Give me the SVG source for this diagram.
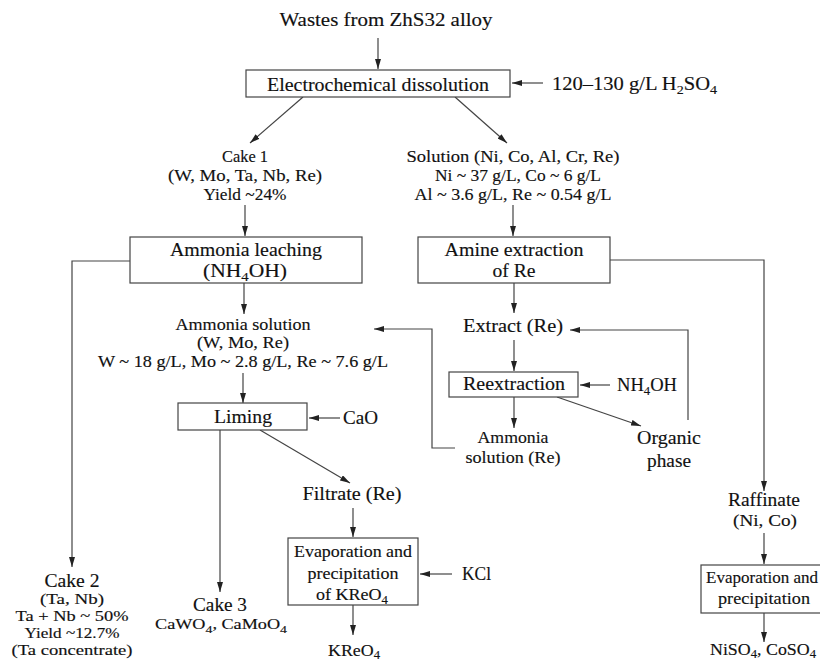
<svg xmlns="http://www.w3.org/2000/svg" width="820" height="662" viewBox="0 0 820 662">
<style>
text{font-family:"Liberation Serif","Times New Roman",serif;fill:#111;text-anchor:middle;stroke:#111;stroke-width:0.15}
.b{font-size:19px}
.s{font-size:17px}
.t{font-size:14.5px}
.l{text-anchor:start}
rect{fill:#fff;stroke:#444;stroke-width:1.2}
.c path,.c line{fill:none;stroke:#444;stroke-width:1.2}
</style>
<defs>
<marker id="a" viewBox="0 0 10 6" refX="10" refY="3" markerWidth="10" markerHeight="6" markerUnits="userSpaceOnUse" orient="auto"><path d="M0,0 L10,3 L0,6 z" fill="#222"/></marker>
</defs>
<rect x="0" y="0" width="820" height="662" style="stroke:none"/>
<g class="c" marker-end="url(#a)">
<line x1="378" y1="38" x2="378" y2="69"/>
<line x1="543" y1="83" x2="512" y2="83"/>
<line x1="303" y1="97" x2="250" y2="143"/>
<line x1="455" y1="97" x2="507" y2="143"/>
<line x1="245" y1="205" x2="245" y2="236"/>
<line x1="513" y1="205" x2="513" y2="236"/>
<path d="M130,261 H72 V567"/>
<line x1="244" y1="283" x2="244" y2="314"/>
<line x1="243" y1="373" x2="243" y2="403"/>
<line x1="340" y1="418" x2="309" y2="418"/>
<path d="M455,448 H432 V329 H374"/>
<line x1="514" y1="283" x2="514" y2="313"/>
<path d="M688,420 V330 H570"/>
<line x1="514" y1="340" x2="514" y2="371"/>
<line x1="610" y1="385" x2="580" y2="385"/>
<line x1="514" y1="397" x2="514" y2="428"/>
<line x1="557" y1="397" x2="641" y2="426"/>
<path d="M610,260 H764 V491"/>
<line x1="764" y1="533" x2="764" y2="564"/>
<line x1="764" y1="613" x2="764" y2="642"/>
<line x1="220" y1="430" x2="220" y2="592"/>
<line x1="260" y1="430" x2="350" y2="483"/>
<line x1="353" y1="508" x2="353" y2="537"/>
<line x1="452" y1="574" x2="420" y2="574"/>
<line x1="353" y1="605" x2="353" y2="635"/>
</g>
<g id="wastes"><text class="b" x="386" y="26" textLength="213" lengthAdjust="spacingAndGlyphs">Wastes from ZhS32 alloy</text></g>
<g id="electro"><rect x="246" y="70" width="264" height="27"/><text class="b" x="378" y="91" textLength="222" lengthAdjust="spacingAndGlyphs">Electrochemical dissolution</text></g>
<g id="h2so4"><text class="b l" x="552" y="90" textLength="165" lengthAdjust="spacingAndGlyphs">120–130 g/L H<tspan dy="4" font-size="13">2</tspan><tspan dy="-4">SO</tspan><tspan dy="4" font-size="13">4</tspan></text></g>
<g id="cake1"><text class="s" x="245" y="162" textLength="46" lengthAdjust="spacingAndGlyphs">Cake 1</text><text class="s" x="245" y="181" textLength="154" lengthAdjust="spacingAndGlyphs">(W, Mo, Ta, Nb, Re)</text><text class="s" x="245" y="200" textLength="83" lengthAdjust="spacingAndGlyphs">Yield ~24%</text></g>
<g id="solution"><text class="s" x="513" y="162" textLength="213" lengthAdjust="spacingAndGlyphs">Solution (Ni, Co, Al, Cr, Re)</text><text class="s" x="518" y="181" textLength="166" lengthAdjust="spacingAndGlyphs">Ni ~ 37 g/L, Co ~ 6 g/L</text><text class="s" x="513" y="200" textLength="197" lengthAdjust="spacingAndGlyphs">Al ~ 3.6 g/L, Re ~ 0.54 g/L</text></g>
<g id="leach"><rect x="130" y="237" width="232" height="46"/><text class="b" x="246" y="256" textLength="152" lengthAdjust="spacingAndGlyphs">Ammonia leaching</text><text class="b" x="245" y="277" textLength="84" lengthAdjust="spacingAndGlyphs">(NH<tspan dy="4" font-size="13">4</tspan><tspan dy="-4">OH)</tspan></text></g>
<g id="amine"><rect x="418" y="237" width="192" height="46"/><text class="b" x="514" y="256" textLength="139" lengthAdjust="spacingAndGlyphs">Amine extraction</text><text class="b" x="514" y="277" textLength="43" lengthAdjust="spacingAndGlyphs">of Re</text></g>
<g id="ammsol"><text class="s" x="243" y="330" textLength="135" lengthAdjust="spacingAndGlyphs">Ammonia solution</text><text class="s" x="243" y="348" textLength="92" lengthAdjust="spacingAndGlyphs">(W, Mo, Re)</text><text class="s" x="243" y="367" textLength="290" lengthAdjust="spacingAndGlyphs">W ~ 18 g/L, Mo ~ 2.8 g/L, Re ~ 7.6 g/L</text></g>
<g id="extract"><text class="b" x="513" y="332" textLength="100" lengthAdjust="spacingAndGlyphs">Extract (Re)</text></g>
<g id="reext"><rect x="449" y="372" width="129" height="25"/><text class="b" x="514" y="390" textLength="102" lengthAdjust="spacingAndGlyphs">Reextraction</text></g>
<g id="nh4oh"><text class="b l" x="617" y="391" textLength="60" lengthAdjust="spacingAndGlyphs">NH<tspan dy="4" font-size="13">4</tspan><tspan dy="-4">OH</tspan></text></g>
<g id="ammre"><text class="s" x="513" y="443" textLength="71" lengthAdjust="spacingAndGlyphs">Ammonia</text><text class="s" x="513" y="463" textLength="95" lengthAdjust="spacingAndGlyphs">solution (Re)</text></g>
<g id="organic"><text class="b" x="669" y="444" textLength="64" lengthAdjust="spacingAndGlyphs">Organic</text><text class="b" x="669" y="467" textLength="44" lengthAdjust="spacingAndGlyphs">phase</text></g>
<g id="liming"><rect x="178" y="403" width="129" height="27"/><text class="b" x="243" y="423" textLength="58" lengthAdjust="spacingAndGlyphs">Liming</text></g>
<g id="cao"><text class="b l" x="343" y="424" textLength="35" lengthAdjust="spacingAndGlyphs">CaO</text></g>
<g id="filtrate"><text class="b" x="352" y="500" textLength="99" lengthAdjust="spacingAndGlyphs">Filtrate (Re)</text></g>
<g id="evap1"><rect x="288" y="538" width="130" height="67"/><text class="s" x="353" y="557" textLength="118" lengthAdjust="spacingAndGlyphs">Evaporation and</text><text class="s" x="353" y="579" textLength="91" lengthAdjust="spacingAndGlyphs">precipitation</text><text class="s" x="352" y="600" textLength="72" lengthAdjust="spacingAndGlyphs">of KReO<tspan dy="4" font-size="12">4</tspan></text></g>
<g id="kcl"><text class="b l" x="462" y="580" textLength="29" lengthAdjust="spacingAndGlyphs">KCl</text></g>
<g id="kreo4"><text class="s" x="354" y="656" textLength="52" lengthAdjust="spacingAndGlyphs">KReO<tspan dy="3" font-size="12">4</tspan></text></g>
<g id="cake2"><text class="b" x="72" y="587" textLength="55" lengthAdjust="spacingAndGlyphs">Cake 2</text><text class="t" x="72" y="604" textLength="64" lengthAdjust="spacingAndGlyphs">(Ta, Nb)</text><text class="t" x="72" y="621" textLength="113" lengthAdjust="spacingAndGlyphs">Ta + Nb ~ 50%</text><text class="t" x="72" y="638" textLength="95" lengthAdjust="spacingAndGlyphs">Yield ~12.7%</text><text class="t" x="72" y="655" textLength="121" lengthAdjust="spacingAndGlyphs">(Ta concentrate)</text></g>
<g id="cake3"><text class="b" x="220" y="611" textLength="54" lengthAdjust="spacingAndGlyphs">Cake 3</text><text class="t" x="221" y="629" textLength="132" lengthAdjust="spacingAndGlyphs">CaWO<tspan dy="4" font-size="11">4</tspan><tspan dy="-4">, CaMoO</tspan><tspan dy="4" font-size="11">4</tspan></text></g>
<g id="raffinate"><text class="b" x="764" y="506" textLength="72" lengthAdjust="spacingAndGlyphs">Raffinate</text><text class="s" x="765" y="526" textLength="64" lengthAdjust="spacingAndGlyphs">(Ni, Co)</text></g>
<g id="evap2"><rect x="701" y="565" width="126" height="48"/><text class="s" x="762" y="583" textLength="112" lengthAdjust="spacingAndGlyphs">Evaporation and</text><text class="s" x="764" y="604" textLength="92" lengthAdjust="spacingAndGlyphs">precipitation</text></g>
<g id="niso4"><text class="s" x="763" y="655" textLength="106" lengthAdjust="spacingAndGlyphs">NiSO<tspan dy="3" font-size="12">4</tspan><tspan dy="-3">, CoSO</tspan><tspan dy="3" font-size="12">4</tspan></text></g>
</svg>
